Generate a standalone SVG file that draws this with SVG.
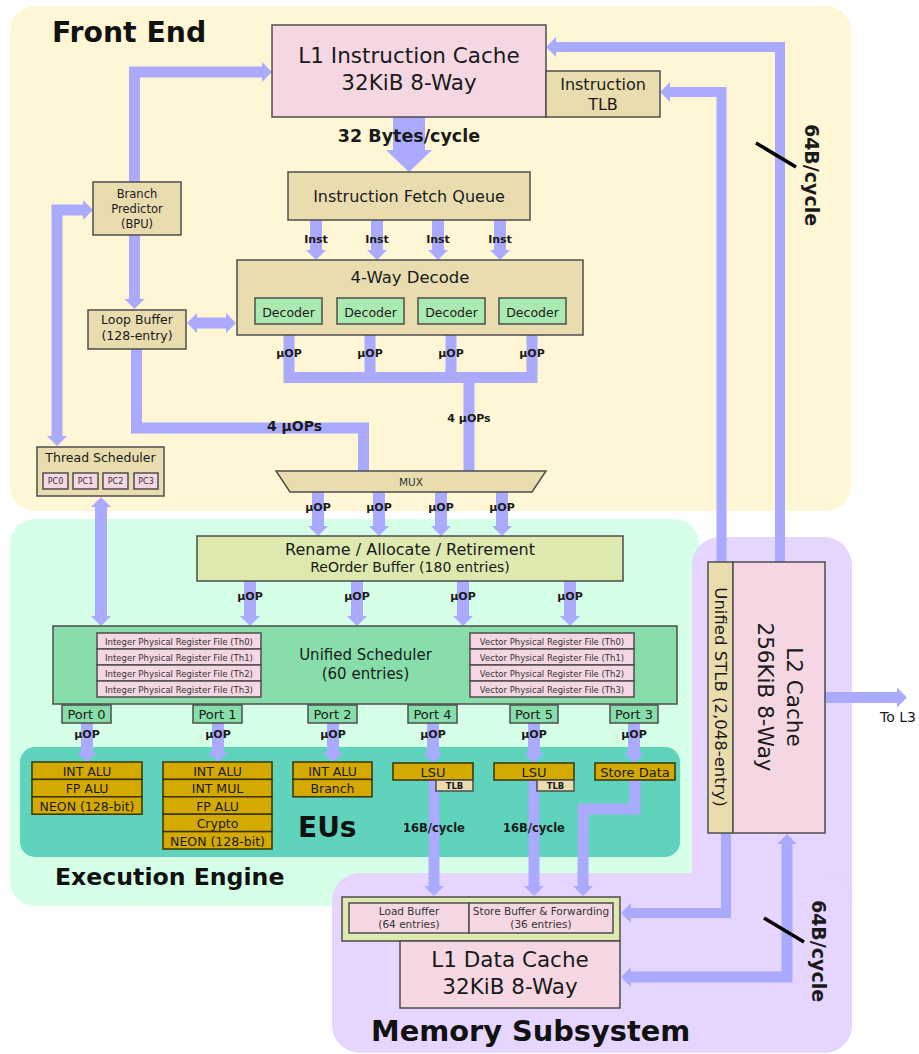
<svg xmlns="http://www.w3.org/2000/svg" width="919" height="1054" viewBox="0 0 919 1054">
<style>
.t{font-family:"DejaVu Sans","Liberation Sans",sans-serif;fill:#1a1a1a;text-anchor:middle}
.b{font-weight:bold}
.title{font-family:"DejaVu Sans","Liberation Sans",sans-serif;font-weight:bold;fill:#111;text-anchor:start}
.box{stroke:#4d4d4d;stroke-width:1.5}
.pink{fill:#f4d7e3}.tan{fill:#e9ddaf}.dec{fill:#aae9b0}.sch{fill:#87deaa}.ren{fill:#dde9af}.gold{fill:#d4aa00;stroke:#3a3300;stroke-width:1.5}
.ar{fill:none;stroke:#aaaaff;stroke-width:12;stroke-linejoin:miter;stroke-linecap:butt}
.a11{stroke-width:11}.a10{stroke-width:10}
.prf{font-family:"DejaVu Sans","Liberation Sans",sans-serif;fill:#333;font-size:8.5px;text-anchor:middle}
</style>
<defs>
<marker id="ah" markerUnits="userSpaceOnUse" markerWidth="10" markerHeight="20" viewBox="0 0 10 20" refX="0" refY="10" orient="auto-start-reverse"><path d="M0,0 L10,10 L0,20 Z" fill="#aaaaff"/></marker>
</defs>

<g id="regions">
<rect x="10" y="6" width="841" height="505" rx="25" fill="#fff6d5"/>
<rect x="10" y="519" width="689" height="387" rx="25" fill="#d5ffe6"/>
<rect x="692" y="537" width="160" height="516" rx="28" fill="#e5d5ff"/>
<rect x="332" y="873" width="520" height="180" rx="28" fill="#e5d5ff"/>
<rect x="20" y="747" width="660" height="110" rx="15" fill="#5fd3bc"/>
<text class="title" x="52" y="42" font-size="28.3">Front End</text>
<text class="title" x="55" y="885" font-size="23.6">Execution Engine</text>
<text class="title" x="298" y="837" font-size="28">EUs</text>
<text class="title" x="371" y="1041" font-size="28.8">Memory Subsystem</text>
</g>

<g id="connectors">
<path class="ar a11" d="M134.5,182 V72 H262" marker-end="url(#ah)"/>
<path class="ar a11" d="M134.5,235 V299" marker-end="url(#ah)"/>
<path class="ar a11" d="M57,436 V210 H83" marker-start="url(#ah)" marker-end="url(#ah)"/>
<path class="ar a11" d="M197,323 H226" marker-start="url(#ah)" marker-end="url(#ah)"/>
<path d="M393,117 H425 V150 H432 L409,172 L386,150 H393 Z" fill="#aaaaff"/>
<path class="ar" d="M316,220 V250" marker-end="url(#ah)"/>
<path class="ar" d="M377,220 V250" marker-end="url(#ah)"/>
<path class="ar" d="M438,220 V250" marker-end="url(#ah)"/>
<path class="ar" d="M500,220 V250" marker-end="url(#ah)"/>
<path class="ar a11" d="M289,335 V377.5 H532 V335"/>
<path class="ar a11" d="M370,335 V377.5"/>
<path class="ar a11" d="M451,335 V377.5"/>
<path class="ar a11" d="M469,377.5 V471"/>
<path class="ar a11" d="M136.5,349 V428 H363.5 V471"/>
<path class="ar" d="M318,492 V526" marker-end="url(#ah)"/>
<path class="ar" d="M379,492 V526" marker-end="url(#ah)"/>
<path class="ar" d="M441,492 V526" marker-end="url(#ah)"/>
<path class="ar" d="M502,492 V526" marker-end="url(#ah)"/>
<path class="ar" d="M250,581 V616" marker-end="url(#ah)"/>
<path class="ar" d="M357,581 V616" marker-end="url(#ah)"/>
<path class="ar" d="M463,581 V616" marker-end="url(#ah)"/>
<path class="ar" d="M570,581 V616" marker-end="url(#ah)"/>
<path class="ar" d="M101,507 V616" marker-start="url(#ah)" marker-end="url(#ah)"/>
<path class="ar" d="M87,723 V752" marker-end="url(#ah)"/>
<path class="ar" d="M218,723 V752" marker-end="url(#ah)"/>
<path class="ar" d="M333,723 V752" marker-end="url(#ah)"/>
<path class="ar" d="M433,723 V753" marker-end="url(#ah)"/>
<path class="ar" d="M534,723 V753" marker-end="url(#ah)"/>
<path class="ar" d="M634,723 V753" marker-end="url(#ah)"/>
<path class="ar a11" d="M434,780 V886" marker-end="url(#ah)"/>
<path class="ar a11" d="M534,780 V886" marker-end="url(#ah)"/>
<path class="ar a11" d="M635,780 V809 H583 V886" marker-end="url(#ah)"/>
<path class="ar a10" d="M780,562 V47 H556" marker-end="url(#ah)"/>
<path class="ar a10" d="M721.5,562 V92 H670" marker-end="url(#ah)"/>
<path class="ar a11" d="M825,697.5 H897" marker-end="url(#ah)"/>
<path class="ar a10" d="M726,833 V913 H631" marker-end="url(#ah)"/>
<path class="ar a11" d="M787,844 V977 H631" marker-start="url(#ah)" marker-end="url(#ah)"/>
<line x1="756" y1="143" x2="796" y2="167" stroke="#000" stroke-width="3.5"/>
<line x1="764" y1="918" x2="804" y2="942" stroke="#000" stroke-width="3.5"/>
<text class="t b" x="409" y="142" font-size="17.5">32 Bytes/cycle</text>
<g class="t b" font-size="11">
<text x="316" y="243">Inst</text><text x="377" y="243">Inst</text><text x="438" y="243">Inst</text><text x="500" y="243">Inst</text>
<text x="289" y="357">µOP</text><text x="370" y="357">µOP</text><text x="451" y="357">µOP</text><text x="532" y="357">µOP</text>
<text x="469" y="422">4 µOPs</text>
<text x="318" y="511">µOP</text><text x="379" y="511">µOP</text><text x="441" y="511">µOP</text><text x="502" y="511">µOP</text>
<text x="250" y="600">µOP</text><text x="357" y="600">µOP</text><text x="463" y="600">µOP</text><text x="570" y="600">µOP</text>
<text x="87" y="738">µOP</text><text x="218" y="738">µOP</text><text x="333" y="738">µOP</text><text x="433" y="738">µOP</text><text x="534" y="738">µOP</text><text x="634" y="738">µOP</text>
</g>
<text class="t b" x="294.5" y="431" font-size="14">4 µOPs</text>
<text class="t b" x="434" y="832" font-size="11.5">16B/cycle</text>
<text class="t b" x="534" y="832" font-size="11.5">16B/cycle</text>
<text class="t b" font-size="19" transform="translate(805,175) rotate(90)">64B/cycle</text>
<text class="t b" font-size="19" transform="translate(812,951) rotate(90)">64B/cycle</text>
<text class="t" x="880" y="722" font-size="14" style="text-anchor:start">To L3</text>
</g>

<g id="l1i">
<rect class="box pink" x="272" y="25" width="274" height="92"/>
<text class="t" x="409" y="63" font-size="21.5">L1 Instruction Cache</text>
<text class="t" x="409" y="90" font-size="21.5">32KiB 8-Way</text>
</g>
<g id="itlb">
<rect class="box tan" x="546" y="71" width="114" height="46"/>
<text class="t" x="603" y="90" font-size="16">Instruction</text>
<text class="t" x="603" y="110" font-size="16">TLB</text>
</g>
<g id="ifq">
<rect class="box tan" x="288" y="172" width="242" height="48"/>
<text class="t" x="409" y="202" font-size="16">Instruction Fetch Queue</text>
</g>
<g id="decode">
<rect class="box tan" x="237" y="260" width="346" height="75"/>
<text class="t" x="410" y="283" font-size="16.5">4-Way Decode</text>
<rect class="box dec" x="255" y="298" width="67" height="26"/>
<rect class="box dec" x="337" y="298" width="67" height="26"/>
<rect class="box dec" x="418" y="298" width="67" height="26"/>
<rect class="box dec" x="499" y="298" width="67" height="26"/>
<g class="t" font-size="12.5">
<text x="288.5" y="317">Decoder</text><text x="370.5" y="317">Decoder</text><text x="451.5" y="317">Decoder</text><text x="532.5" y="317">Decoder</text>
</g>
</g>
<g id="bpu">
<rect class="box tan" x="93" y="182" width="88" height="53"/>
<g class="t" font-size="11.5"><text x="137" y="198">Branch</text><text x="137" y="213">Predictor</text><text x="137" y="228">(BPU)</text></g>
</g>
<g id="loop-buffer">
<rect class="box tan" x="88" y="310" width="98" height="39"/>
<g class="t" font-size="12.5"><text x="137" y="324">Loop Buffer</text><text x="137" y="340">(128-entry)</text></g>
</g>
<g id="thread-scheduler">
<rect class="box tan" x="37" y="447" width="127" height="49"/>
<text class="t" x="100.5" y="462" font-size="12.5">Thread Scheduler</text>
<rect class="box pink" x="43" y="473" width="25" height="16"/>
<rect class="box pink" x="73" y="473" width="25" height="16"/>
<rect class="box pink" x="103" y="473" width="25" height="16"/>
<rect class="box pink" x="134" y="473" width="24" height="16"/>
<g class="t" font-size="8" style="fill:#333"><text x="55.5" y="484">PC0</text><text x="85.5" y="484">PC1</text><text x="115.5" y="484">PC2</text><text x="146" y="484">PC3</text></g>
</g>
<g id="mux">
<polygon class="box tan" points="276,471 546,471 532,492 290,492"/>
<text class="t" x="411" y="486" font-size="10.5" style="fill:#333">MUX</text>
</g>
<g id="rename">
<rect class="box ren" x="197" y="536" width="426" height="45"/>
<text class="t" x="410" y="555" font-size="16">Rename / Allocate / Retirement</text>
<text class="t" x="410" y="572" font-size="14">ReOrder Buffer (180 entries)</text>
</g>
<g id="scheduler">
<rect class="box sch" x="53" y="626" width="624" height="78"/>
<text class="t" x="365.5" y="660" font-size="15">Unified Scheduler</text>
<text class="t" x="365.5" y="679" font-size="15">(60 entries)</text>
<rect class="box pink" x="97" y="633" width="164" height="16"/>
<rect class="box pink" x="97" y="649" width="164" height="16"/>
<rect class="box pink" x="97" y="665" width="164" height="16"/>
<rect class="box pink" x="97" y="681" width="164" height="16"/>
<rect class="box pink" x="470" y="633" width="164" height="16"/>
<rect class="box pink" x="470" y="649" width="164" height="16"/>
<rect class="box pink" x="470" y="665" width="164" height="16"/>
<rect class="box pink" x="470" y="681" width="164" height="16"/>
<text class="prf" x="179" y="644.5">Integer Physical Register File (Th0)</text>
<text class="prf" x="179" y="660.5">Integer Physical Register File (Th1)</text>
<text class="prf" x="179" y="676.5">Integer Physical Register File (Th2)</text>
<text class="prf" x="179" y="692.5">Integer Physical Register File (Th3)</text>
<text class="prf" x="552" y="644.5">Vector Physical Register File (Th0)</text>
<text class="prf" x="552" y="660.5">Vector Physical Register File (Th1)</text>
<text class="prf" x="552" y="676.5">Vector Physical Register File (Th2)</text>
<text class="prf" x="552" y="692.5">Vector Physical Register File (Th3)</text>
</g>
<g id="ports">
<rect class="box sch" x="62" y="705" width="49" height="18"/>
<rect class="box sch" x="193" y="705" width="49" height="18"/>
<rect class="box sch" x="308" y="705" width="49" height="18"/>
<rect class="box sch" x="408" y="705" width="49" height="18"/>
<rect class="box sch" x="510" y="705" width="48" height="18"/>
<rect class="box sch" x="610" y="705" width="48" height="18"/>
<g class="t" font-size="13">
<text x="86.5" y="718.5">Port 0</text><text x="217.5" y="718.5">Port 1</text><text x="332.5" y="718.5">Port 2</text><text x="432.5" y="718.5">Port 4</text><text x="534" y="718.5">Port 5</text><text x="634" y="718.5">Port 3</text>
</g>
</g>
<g id="eu-port0">
<rect class="gold" x="32" y="762" width="110" height="17.4"/>
<rect class="gold" x="32" y="779.4" width="110" height="17.4"/>
<rect class="gold" x="32" y="796.8" width="110" height="17.4"/>
<g class="t" font-size="12.5"><text x="87" y="776">INT ALU</text><text x="87" y="793.4">FP ALU</text><text x="87" y="810.8">NEON (128-bit)</text></g>
</g>
<g id="eu-port1">
<rect class="gold" x="163" y="762" width="109" height="17.4"/>
<rect class="gold" x="163" y="779.4" width="109" height="17.4"/>
<rect class="gold" x="163" y="796.8" width="109" height="17.4"/>
<rect class="gold" x="163" y="814.2" width="109" height="17.4"/>
<rect class="gold" x="163" y="831.6" width="109" height="17.4"/>
<g class="t" font-size="12.5"><text x="217.5" y="776">INT ALU</text><text x="217.5" y="793.4">INT MUL</text><text x="217.5" y="810.8">FP ALU</text><text x="217.5" y="828.2">Crypto</text><text x="217.5" y="845.6">NEON (128-bit)</text></g>
</g>
<g id="eu-port2">
<rect class="gold" x="293" y="762" width="79" height="17.4"/>
<rect class="gold" x="293" y="779.4" width="79" height="17.4"/>
<g class="t" font-size="12.5"><text x="332.5" y="776">INT ALU</text><text x="332.5" y="793.4">Branch</text></g>
</g>
<g id="lsu-port4">
<rect class="gold" x="393" y="763" width="80" height="17"/>
<rect class="box tan" x="436" y="780" width="37" height="11"/>
<text class="t" x="433" y="777" font-size="13">LSU</text>
<text class="t b" x="454.5" y="788.5" font-size="8.5">TLB</text>
</g>
<g id="lsu-port5">
<rect class="gold" x="494" y="763" width="80" height="17"/>
<rect class="box tan" x="537" y="780" width="37" height="11"/>
<text class="t" x="534" y="777" font-size="13">LSU</text>
<text class="t b" x="555.5" y="788.5" font-size="8.5">TLB</text>
</g>
<g id="store-data">
<rect class="gold" x="595" y="763" width="80" height="17"/>
<text class="t" x="635" y="777" font-size="13">Store Data</text>
</g>
<g id="ls-buffers">
<rect class="box ren" x="342" y="897" width="278" height="44"/>
<rect class="box pink" x="349" y="903" width="120" height="30"/>
<rect class="box pink" x="469" y="903" width="144" height="30"/>
<g class="t" font-size="10.5" style="fill:#333"><text x="409" y="915">Load Buffer</text><text x="409" y="927.5">(64 entries)</text><text x="541" y="915">Store Buffer &amp; Forwarding</text><text x="541" y="927.5">(36 entries)</text></g>
</g>
<g id="l1d">
<rect class="box pink" x="400" y="941" width="220" height="67"/>
<text class="t" x="510" y="967" font-size="21.5">L1 Data Cache</text>
<text class="t" x="510" y="994" font-size="21.5">32KiB 8-Way</text>
</g>
<g id="l2">
<rect class="box tan" x="708" y="562" width="25" height="271"/>
<rect class="box pink" x="733" y="562" width="92" height="271"/>
<text class="t" font-size="16.5" transform="translate(715,697) rotate(90)">Unified STLB  (2,048-entry)</text>
<g class="t" font-size="21.5" transform="translate(779,697) rotate(90)"><text x="0" y="-7.5">L2 Cache</text><text x="0" y="21">256KiB 8-Way</text></g>
</g>
</svg>
